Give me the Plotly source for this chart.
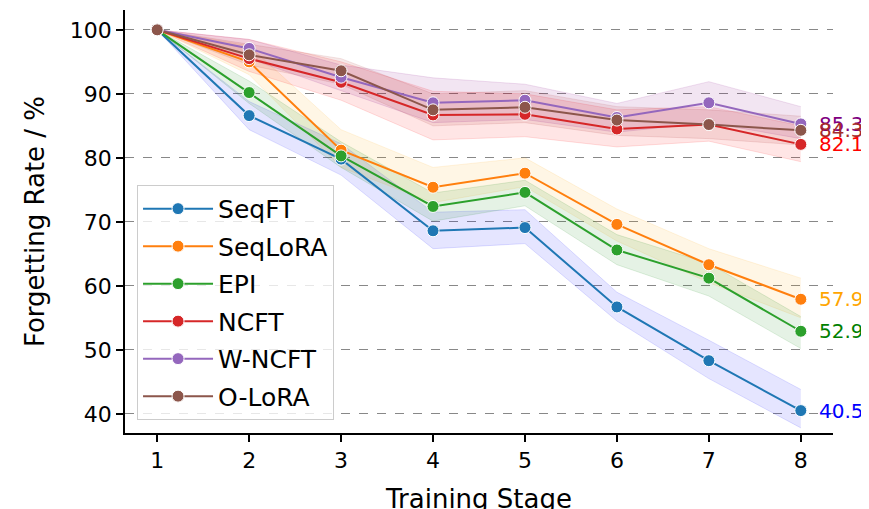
import plotly.graph_objects as go

stages = [1, 2, 3, 4, 5, 6, 7, 8]
methods = ["SeqFT", "SeqLoRA", "EPI", "NCFT", "W-NCFT", "O-LoRA"]

seqft = [100, 86.6, 79.8, 68.6, 69.1, 56.7, 48.3, 40.5]
seqlora = [100, 95.0, 81.2, 75.4, 77.6, 69.6, 63.3, 57.9]
epi = [100, 90.2, 80.3, 72.4, 74.6, 65.6, 61.2, 52.9]
ncft = [100, 95.5, 91.8, 86.7, 86.8, 84.5, 85.2, 82.1]
wncft = [100, 97.1, 92.6, 88.6, 89.0, 86.3, 88.6, 85.3]
olora = [100, 96.1, 93.6, 87.5, 87.9, 85.9, 85.2, 84.3]

seqft_lo = [100, 84.4, 77.3, 65.8, 66.6, 54.5, 45.5, 37.8]
seqft_hi = [100, 88.8, 82.2, 71.5, 71.9, 59.0, 51.5, 43.8]
seqlora_lo = [100, 93.0, 78.5, 73.0, 75.5, 67.0, 60.5, 55.0]
seqlora_hi = [100, 97.5, 84.4, 78.5, 80.0, 72.0, 65.8, 61.2]
epi_lo = [100, 88.5, 78.5, 70.1, 72.5, 63.3, 58.4, 50.2]
epi_hi = [100, 92.0, 82.5, 74.5, 76.5, 68.0, 63.5, 55.2]
ncft_lo = [100, 93.5, 89.0, 82.8, 83.3, 81.7, 82.6, 79.4]
ncft_hi = [100, 98.5, 95.0, 90.4, 90.0, 87.5, 88.0, 85.0]
wncft_lo = [100, 95.5, 90.5, 85.5, 86.0, 84.0, 85.5, 83.0]
wncft_hi = [100, 98.5, 94.5, 92.5, 91.5, 88.5, 91.9, 88.0]
olora_lo = [100, 94.5, 91.5, 85.0, 85.5, 83.5, 83.0, 82.0]
olora_hi = [100, 97.8, 95.5, 90.0, 90.5, 88.0, 87.5, 86.5]

final_labels = ["40.5", "57.9", "52.9", "82.1", "85.3", "84.3"]

values = [seqft, seqlora, epi, ncft, wncft, olora]
lows = [seqft_lo, seqlora_lo, epi_lo, ncft_lo, wncft_lo, olora_lo]
highs = [seqft_hi, seqlora_hi, epi_hi, ncft_hi, wncft_hi, olora_hi]

line_colors = ["#1f77b4", "#ff7f0e", "#2ca02c", "#d62728", "#9467bd", "#8c564b"]
band_rgb = ["0,0,255", "255,165,0", "0,128,0", "255,0,0", "128,0,128", "165,42,42"]
label_colors = ["blue", "orange", "green", "red", "purple", "brown"]

FONT = "DejaVu Sans"
fig = go.Figure()

for lo, hi, rgb in zip(lows, highs, band_rgb):
    fig.add_trace(go.Scatter(x=stages, y=hi, mode="lines",
                             line=dict(color=f"rgba({rgb},0.12)", width=1),
                             showlegend=False, hoverinfo="skip"))
    fig.add_trace(go.Scatter(x=stages, y=lo, mode="lines", fill="tonexty",
                             fillcolor=f"rgba({rgb},0.1)",
                             line=dict(color=f"rgba({rgb},0.12)", width=1),
                             showlegend=False, hoverinfo="skip"))

for i, (name, vals, c) in enumerate(zip(methods, values, line_colors)):
    fig.add_trace(go.Scatter(x=stages, y=vals, mode="lines+markers", name=name,
                             legendgroup=f"g{i}", legendrank=i + 1,
                             line=dict(color=c, width=2),
                             marker=dict(size=12, color=c, line=dict(color="white", width=1))))

label_y = [seqft[-1], seqlora[-1], epi[-1], ncft[-1], wncft[-1], olora[-1]]
for txt, yv, c in zip(final_labels, label_y, label_colors):
    fig.add_annotation(x=stages[-1], y=yv, text=txt, showarrow=False,
                       xanchor="left", yanchor="middle", xshift=16,
                       font=dict(family=FONT, size=20, color=c))

fig.update_layout(
    width=861, height=506,
    margin=dict(l=117, r=36, t=2, b=81),
    plot_bgcolor="white", paper_bgcolor="white",
    font=dict(family=FONT, size=22, color="black"),
    legend=dict(x=0.017, y=0.031, xanchor="left", yanchor="bottom",
                traceorder="grouped", tracegroupgap=2, itemwidth=70,
                bgcolor="rgba(255,255,255,0.8)", bordercolor="#cccccc", borderwidth=1,
                font=dict(family=FONT, size=25)),
)
fig.update_xaxes(range=[0.65, 8.35], tickvals=stages, showgrid=False, automargin=False,
                 showline=True, linecolor="black", linewidth=1.5,
                 ticks="outside", ticklen=7, tickwidth=1.5, tickcolor="black",
                 title=dict(text="Training Stage", standoff=21), zeroline=False)
fig.update_yaxes(range=[37.0, 103.1], tickvals=[40, 50, 60, 70, 80, 90, 100],
                 automargin=False,
                 showgrid=True, gridcolor="#888888", gridwidth=1, griddash="dash",
                 showline=True, linecolor="black", linewidth=1.5,
                 ticks="outside", ticklen=7, tickwidth=1.5, tickcolor="black",
                 title=dict(text="Forgetting Rate / %", standoff=18), zeroline=False)

fig.write_html("out.html")
